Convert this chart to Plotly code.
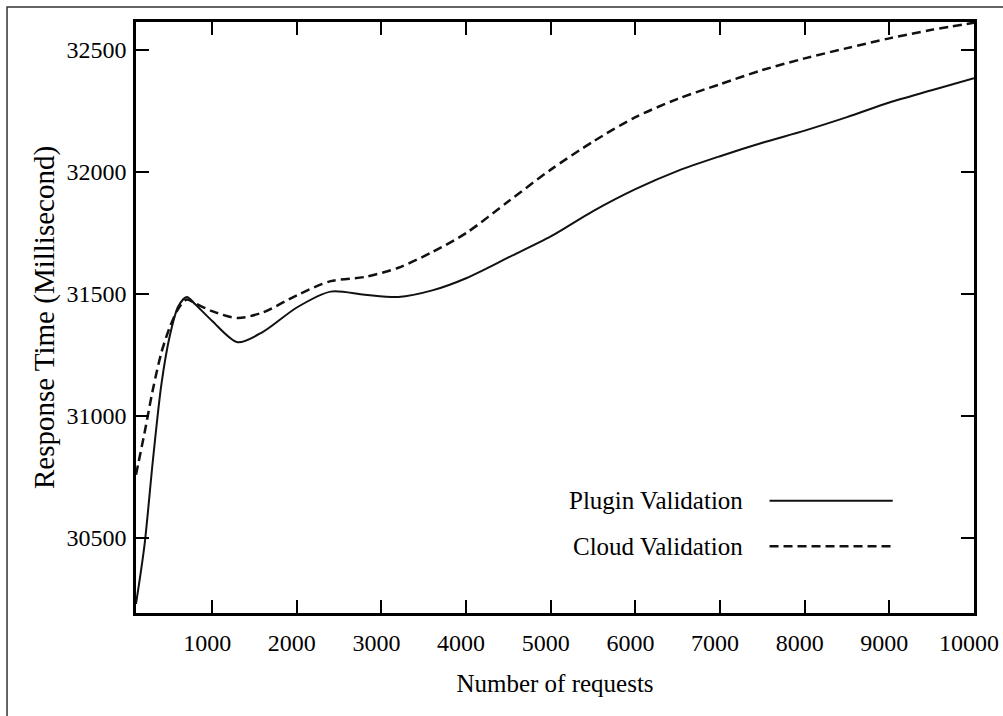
import plotly.graph_objects as go

# Data
requests = [100, 200, 300, 400, 500, 600, 700, 800, 1000, 1300, 1600, 2000, 2400, 2800,
            3200, 3600, 4000, 4500, 5000, 5500, 6000, 6500, 7000, 7500, 8000, 8500,
            9000, 9500, 10000]
plugin_validation = [30230, 30470, 30820, 31130, 31330, 31450, 31488, 31458, 31390, 31303,
                     31345, 31445, 31510, 31497, 31488, 31515, 31565, 31650, 31736, 31840,
                     31930, 32005, 32065, 32120, 32170, 32225, 32285, 32335, 32385]
cloud_validation = [30760, 30930, 31110, 31260, 31365, 31440, 31478, 31462, 31430, 31402,
                    31425, 31495, 31553, 31570, 31608, 31672, 31750, 31880, 32010, 32125,
                    32225, 32300, 32360, 32418, 32466, 32508, 32548, 32583, 32612]
series_names = ["Plugin Validation", "Cloud Validation"]
x_ticks = [1000, 2000, 3000, 4000, 5000, 6000, 7000, 8000, 9000, 10000]
y_ticks = [30500, 31000, 31500, 32000, 32500]

FONT = "Liberation Serif, Times New Roman, serif"

fig = go.Figure()
fig.add_trace(go.Scatter(x=requests, y=plugin_validation, mode="lines", name=series_names[0],
                         line=dict(color="#111111", width=2, shape="spline", smoothing=0.8),
                         showlegend=False))
fig.add_trace(go.Scatter(x=requests, y=cloud_validation, mode="lines", name=series_names[1],
                         line=dict(color="#111111", width=2.5, dash="9px,5px", shape="spline", smoothing=0.8),
                         showlegend=False))

axis_common = dict(showline=True, linecolor="black", linewidth=2.5, mirror="ticks",
                   ticks="inside", ticklen=13, tickwidth=2.2, tickcolor="black",
                   showgrid=False, zeroline=False, automargin=False,
                   tickfont=dict(family=FONT, size=24, color="black"))

fig.update_xaxes(range=[100, 10000], tickvals=x_ticks, ticktext=[str(v) for v in x_ticks],
                 title=dict(text="Number of requests", font=dict(family=FONT, size=25, color="black"),
                            standoff=20),
                 ticklabelstandoff=6, ticklabelshift=-5, **axis_common)
fig.update_yaxes(range=[30193, 32615], tickvals=y_ticks, ticktext=[str(v) for v in y_ticks],
                 title=dict(text="Response Time (Millisecond)", font=dict(family=FONT, size=29, color="black"),
                            standoff=4),
                 ticklabelstandoff=2, **axis_common)

# Legend drawn gnuplot-style: text on the left, line sample on the right
legend_rows = [(0.19, "solid", 2), (0.113, "9px,5px", 2.5)]
annotations = []
shapes = []
for (ypos, dash, w), name in zip(legend_rows, series_names):
    annotations.append(dict(xref="paper", yref="paper", x=0.727, y=ypos, xanchor="right",
                            yanchor="middle", text=name, showarrow=False,
                            font=dict(family=FONT, size=25, color="black")))
    shapes.append(dict(type="line", xref="paper", yref="paper", x0=0.756, x1=0.903,
                       y0=ypos, y1=ypos, line=dict(color="#111111", width=w, dash=dash)))

# Outer frame of the figure
shapes.append(dict(type="rect", xref="paper", yref="paper", x0=-0.1539, x1=1.2,
                   y0=-0.3, y1=1.0254, line=dict(color="#333333", width=1.5), layer="below"))

fig.update_layout(width=1003, height=716, margin=dict(l=136, r=29, t=22, b=103),
                  paper_bgcolor="white", plot_bgcolor="white",
                  annotations=annotations, shapes=shapes)

fig.write_html("out.html", config={"displayModeBar": False},
               post_script="document.body.style.margin='0px';")
